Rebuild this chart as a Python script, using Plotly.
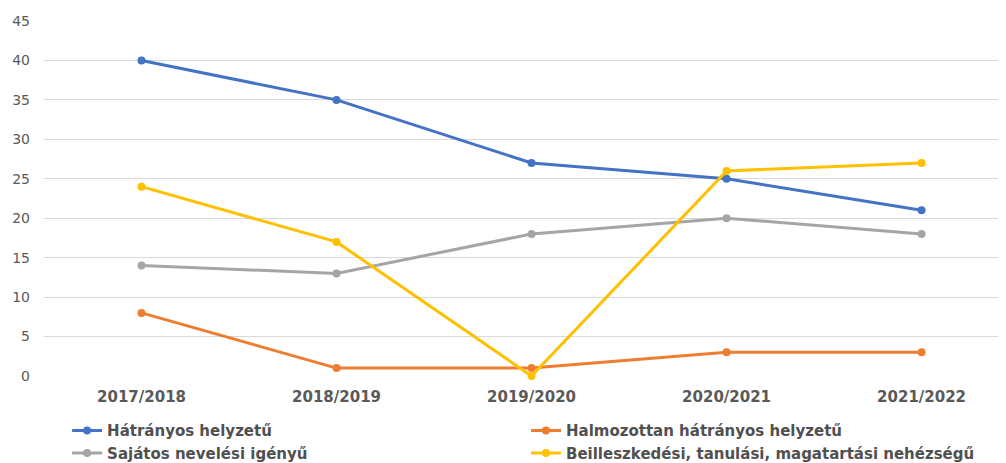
import plotly.graph_objects as go

years = ["2017/2018", "2018/2019", "2019/2020", "2020/2021", "2021/2022"]
hatranyos = [40, 35, 27, 25, 21]
halmozottan = [8, 1, 1, 3, 3]
sajatos = [14, 13, 18, 20, 18]
beilleszkedesi = [24, 17, 0, 26, 27]

names = ["Hátrányos helyzetű", "Halmozottan hátrányos helyzetű",
         "Sajátos nevelési igényű", "Beilleszkedési, tanulási, magatartási nehézségű"]
colors = ["#4472C4", "#ED7D31", "#A5A5A5", "#FFC000"]
series = [hatranyos, halmozottan, sajatos, beilleszkedesi]
legend_ids = ["legend", "legend2", "legend", "legend2"]

fig = go.Figure()
for i, (n, c, s, lg) in enumerate(zip(names, colors, series, legend_ids)):
    fig.add_trace(go.Scatter(x=years, y=s, name=n, mode="lines+markers",
                             line=dict(color=c, width=3),
                             marker=dict(color=c, size=8),
                             cliponaxis=False,
                             legend=lg, legendgroup=f"g{i}"))

legend_font = dict(size=15, family="DejaVu Sans", color="#505050", weight="bold")
common_legend = dict(orientation="v", xanchor="left", yanchor="top",
                     y=-0.108, tracegroupgap=17, traceorder="normal",
                     bgcolor="rgba(0,0,0,0)", font=legend_font,
                     itemwidth=30)

fig.update_layout(
    width=1006, height=463,
    margin=dict(l=36, r=8, t=13, b=95, autoexpand=False),
    plot_bgcolor="white", paper_bgcolor="white",
    font=dict(family="DejaVu Sans", color="#595959"),
    xaxis=dict(type="category", range=[-0.5, 4.433], showgrid=False,
               showline=False, ticks="", ticklabelstandoff=10,
               tickfont=dict(size=15, family="DejaVu Sans", color="#595959", weight="bold")),
    yaxis=dict(range=[0, 45], dtick=5, gridcolor="#D9D9D9", gridwidth=1,
               zeroline=False, showline=False, ticks="",
               tickfont=dict(size=14, family="DejaVu Sans", color="#595959"),
               ticklabelstandoff=13),
    legend=dict(x=0.024, **common_legend),
    legend2=dict(x=0.501, **common_legend),
    showlegend=True,
)

fig.write_html("out.html")
